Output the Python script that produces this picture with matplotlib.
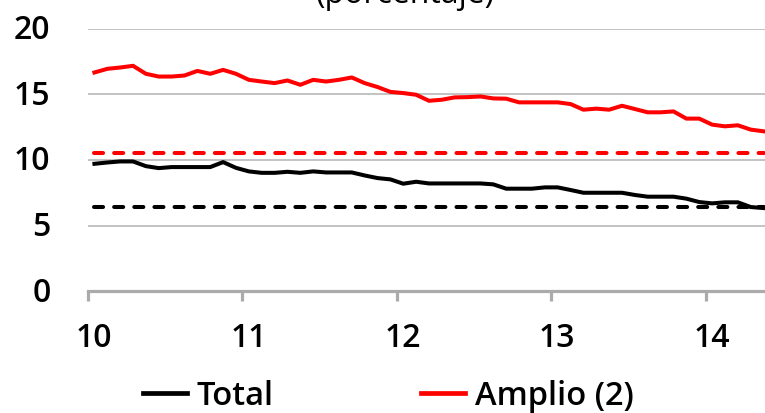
import numpy as np
import matplotlib
matplotlib.use("Agg")
import matplotlib.pyplot as plt
import matplotlib.transforms as mtransforms
from matplotlib.lines import Line2D

# Monthly series, Jan 2010 - May 2014 (percent)
total = [9.71, 9.81, 9.89, 9.89, 9.53, 9.38, 9.46, 9.46, 9.46, 9.46,
         9.84, 9.40, 9.13, 9.02, 9.02, 9.10, 9.02, 9.13, 9.05, 9.05,
         9.05, 8.82, 8.62, 8.52, 8.19, 8.34, 8.21, 8.21, 8.21, 8.21,
         8.21, 8.14, 7.81, 7.81, 7.81, 7.91, 7.91, 7.71, 7.50, 7.50,
         7.50, 7.50, 7.33, 7.20, 7.20, 7.20, 7.05, 6.79, 6.69, 6.77,
         6.77, 6.41, 6.33]
amplio = [16.68, 16.96, 17.06, 17.19, 16.58, 16.37, 16.37, 16.45, 16.80, 16.58,
          16.88, 16.58, 16.12, 15.99, 15.87, 16.07, 15.74, 16.12, 15.99, 16.12,
          16.30, 15.87, 15.57, 15.20, 15.11, 14.98, 14.52, 14.60, 14.78, 14.80,
          14.85, 14.70, 14.68, 14.40, 14.40, 14.40, 14.40, 14.27, 13.84, 13.92,
          13.84, 14.14, 13.89, 13.64, 13.64, 13.71, 13.16, 13.16, 12.70, 12.57,
          12.65, 12.32, 12.19]
total_ref = 6.4
amplio_ref = 10.5

year_ticks = [10, 11, 12, 13, 14]
year_labels = ["10", "11", "12", "13", "14"]
y_ticks = [0, 5, 10, 15, 20]

n = len(total)
x = 10 + (np.arange(n) + 0.5) / 12.0

FS = 23
FS_LEG = 23.5
plt.rcParams["font.family"] = ["Open Sans", "DejaVu Sans"]
plt.rcParams["font.weight"] = "semibold"

fig = plt.figure(figsize=(7.65, 4.14), dpi=100)
ax = fig.add_axes([88 / 765, 1 - 292 / 414, 682 / 765, 262 / 414])

lw = 2.9
ax.plot(x, total, color="black", lw=lw, solid_joinstyle="round", zorder=4)
ax.plot(x, amplio, color="#FF0000", lw=lw, solid_joinstyle="round", zorder=4)
ax.plot(x, [total_ref] * n, color="black", lw=lw, dashes=(2.25, 2.75),
        dash_capstyle="round", zorder=3)
ax.plot(x, [amplio_ref] * n, color="#FF0000", lw=lw, dashes=(2.25, 2.75),
        dash_capstyle="round", zorder=3)

ax.set_xlim(10, 10 + n / 12.0)
ax.set_ylim(0, 20)
ax.set_yticks(y_ticks)
ax.set_yticklabels([str(v) for v in y_ticks])
ax.set_xticks(year_ticks)
ax.set_xticklabels(year_labels)

grid_c = "#B3B3B3"
ax.grid(axis="y", color=grid_c, lw=1.1, zorder=1)
ax.grid(axis="x", visible=False)
for s in ["left", "right", "top"]:
    ax.spines[s].set_visible(False)
ax.spines["bottom"].set_color("#ABABAB")
ax.spines["bottom"].set_linewidth(2.3)
ax.spines["bottom"].set_zorder(2)

ax.tick_params(axis="y", length=0, pad=27, labelsize=FS)
ax.tick_params(axis="x", direction="out", length=7.5, width=2.3,
               color="#ABABAB", pad=14, labelsize=FS)

# nudge year labels slightly right and value labels slightly up
xshift = mtransforms.ScaledTranslation(6 / 100, 0, fig.dpi_scale_trans)
for lab in ax.get_xticklabels():
    lab.set_transform(lab.get_transform() + xshift)
yshift = mtransforms.ScaledTranslation(0, 3 / 100, fig.dpi_scale_trans)
for lab in ax.get_yticklabels():
    lab.set_transform(lab.get_transform() + yshift)

fig.text(405 / 765, 1 - 3 / 414, "(porcentaje)", ha="center", va="baseline",
         fontsize=FS, fontweight="normal")

handles = [Line2D([], [], color="black", lw=3.4),
           Line2D([], [], color="#FF0000", lw=3.4)]
fig.legend(handles, ["Total", "Amplio (2)"], loc="center",
           bbox_to_anchor=(388 / 765, 1 - 397 / 414), ncol=2, frameon=False,
           fontsize=FS_LEG, handlelength=1.35, handletextpad=0.31,
           columnspacing=4.5, borderpad=0, borderaxespad=0)

fig.savefig("out.png", dpi=100)
